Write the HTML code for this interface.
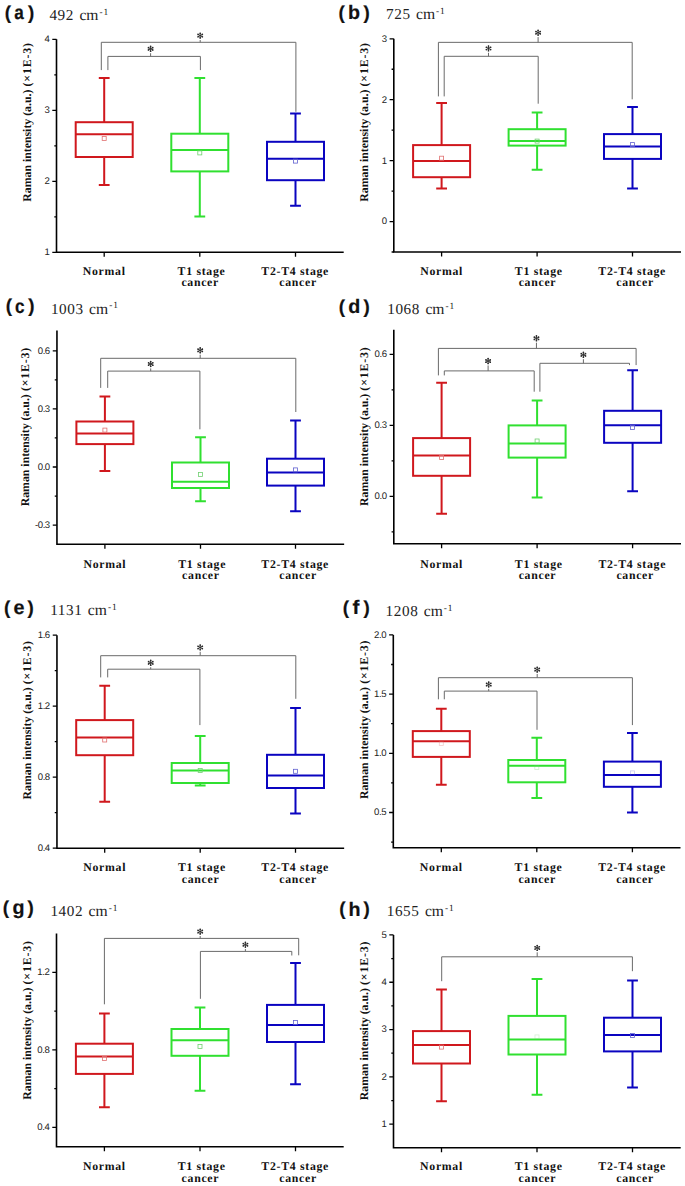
<!DOCTYPE html>
<html><head><meta charset="utf-8"><title>Raman box plots</title>
<style>
html,body{margin:0;padding:0;background:#fff;}
svg{display:block;text-rendering:geometricPrecision;}
.pl{font-family:"Liberation Sans",sans-serif;font-weight:bold;font-size:18.8px;letter-spacing:3.0px;fill:#111;stroke:#111;stroke-width:0.2px;}
.pll{font-size:19.7px;}
.wn{font-family:"Liberation Serif",serif;font-size:16px;fill:#222;}
.wnd{font-size:15.2px;letter-spacing:0.6px;}
.wcm{font-size:15.6px;}
.sup{font-size:9.4px;letter-spacing:0.9px;}
.tl{font-family:"Liberation Sans",sans-serif;font-size:9.6px;letter-spacing:-0.45px;fill:#222;text-anchor:end;}
.xl{font-family:"Liberation Serif",serif;font-weight:bold;font-size:11.8px;fill:#111;text-anchor:middle;letter-spacing:0.7px;}
.yt{font-family:"Liberation Serif",serif;font-weight:bold;font-size:11.8px;fill:#111;}
.yt2{letter-spacing:0.85px;}
.ax{stroke:#000;stroke-width:1.6;fill:none;}
.tk{stroke:#000;stroke-width:1.3;fill:none;}
.br{stroke:#6a6a6a;stroke-width:1;fill:none;}
.st{stroke:#2a2a2a;stroke-width:0.9;stroke-linecap:round;fill:none;}
.sd{fill:#2a2a2a;}
</style></head>
<body>
<svg width="685" height="1186" viewBox="0 0 685 1186">
<rect width="685" height="1186" fill="#fff"/>
<text class="pl" x="4.86" y="18.6">(</text>
<text class="pl" x="27.98" y="18.6">)</text>
<text class="pl pll" transform="translate(19.4 18.9) scale(0.87 1)" x="-5.83" y="0">a</text>
<text class="wn" x="49.4" y="19.7"><tspan class="wnd">492</tspan> <tspan dx="1.4" class="wcm">cm</tspan><tspan class="sup" dx="1.0" dy="-5.2">-1</tspan></text>
<path class="br" d="M101.3 70.1V42.3H295.9V111.8"/>
<path class="br" d="M200.2 42.3V40"/>
<path class="st" d="M200.2 37.95L200.2 33.25M198.08 36.73L202.32 34.47M198.08 34.47L202.32 36.73"/><g class="sd"><circle cx="200.2" cy="37.95" r="0.85"/><circle cx="200.2" cy="33.25" r="0.85"/><circle cx="198.08" cy="36.73" r="0.85"/><circle cx="202.32" cy="34.47" r="0.85"/><circle cx="198.08" cy="34.47" r="0.85"/><circle cx="202.32" cy="36.73" r="0.85"/></g>
<path class="br" d="M107.9 70.1V56.4H200.4V70.1"/>
<path class="br" d="M150.6 56.4V53.2"/>
<path class="st" d="M150.6 51.15L150.6 46.45M148.48 49.93L152.72 47.67M148.48 47.67L152.72 49.93"/><g class="sd"><circle cx="150.6" cy="51.15" r="0.85"/><circle cx="150.6" cy="46.45" r="0.85"/><circle cx="148.48" cy="49.93" r="0.85"/><circle cx="152.72" cy="47.67" r="0.85"/><circle cx="148.48" cy="47.67" r="0.85"/><circle cx="152.72" cy="49.93" r="0.85"/></g>
<path d="M98.8 77.9H109.6M104.2 77.9V122.2M104.2 157V184.9M98.8 184.9H109.6M75.7 134.2H132.7" stroke="#d0181d" stroke-width="2.0" fill="none"/>
<rect x="75.7" y="122.2" width="57" height="34.8" stroke="#d0181d" stroke-width="2.0" fill="none"/>
<rect x="102.2" y="136.5" width="4" height="4" stroke="#e07070" stroke-width="0.8" fill="none" opacity="1.0"/>
<path d="M194.4 77.9H205.2M199.8 77.9V133.7M199.8 171.4V216.5M194.4 216.5H205.2M171.3 150.1H228.3" stroke="#30e030" stroke-width="2.0" fill="none"/>
<rect x="171.3" y="133.7" width="57" height="37.7" stroke="#30e030" stroke-width="2.0" fill="none"/>
<rect x="197.8" y="150.9" width="4" height="4" stroke="#70d070" stroke-width="0.8" fill="none" opacity="1.0"/>
<path d="M290.1 113.5H300.9M295.5 113.5V141.8M295.5 180.2V205.8M290.1 205.8H300.9M267 158.8H324" stroke="#0a04c0" stroke-width="2.0" fill="none"/>
<rect x="267" y="141.8" width="57" height="38.4" stroke="#0a04c0" stroke-width="2.0" fill="none"/>
<rect x="293.5" y="159.1" width="4" height="4" stroke="#6060d0" stroke-width="0.8" fill="none" opacity="1.0"/>
<path class="ax" d="M56.5 39.3V252.3H343.7"/>
<text class="tl" x="49.3" y="255.2">1</text>
<text class="tl" x="49.3" y="184.2">2</text>
<text class="tl" x="49.3" y="113.2">3</text>
<text class="tl" x="49.3" y="42.2">4</text>
<path class="tk" d="M52.3 252.3H56.5M52.3 181.3H56.5M52.3 110.3H56.5M52.3 39.3H56.5M54.3 216.8H56.5M54.3 145.8H56.5M54.3 74.8H56.5M104.2 252.3V256.8M199.8 252.3V256.8M295.5 252.3V256.8"/>
<text class="xl" x="104.2" y="274.6">Normal</text>
<text class="xl" x="201.5" y="274.6">T1 stage</text>
<text class="xl" x="200.2" y="286">cancer</text>
<text class="xl" x="295.2" y="274.6">T2-T4 stage</text>
<text class="xl" x="298.1" y="286">cancer</text>
<text class="yt" transform="translate(30.6 201.7) rotate(-90)">Raman intensity (a.u.)<tspan dx="3.2" class="yt2">(×1E-3)</tspan></text>
<text class="pl" x="338.46" y="18.5">(</text>
<text class="pl" x="363.58" y="18.5">)</text>
<text class="pl pll" transform="translate(354.3 18.8) scale(1.0 1)" x="-6.26" y="0">b</text>
<text class="wn" x="386" y="19.4"><tspan class="wnd">725</tspan> <tspan dx="1.4" class="wcm">cm</tspan><tspan class="sup" dx="1.0" dy="-5.2">-1</tspan></text>
<path class="br" d="M438.4 96.4V42.35H632.2V99.3"/>
<path class="br" d="M538.1 42.35V37.1"/>
<path class="st" d="M538.1 35.05L538.1 30.35M535.98 33.83L540.22 31.57M535.98 31.57L540.22 33.83"/><g class="sd"><circle cx="538.1" cy="35.05" r="0.85"/><circle cx="538.1" cy="30.35" r="0.85"/><circle cx="535.98" cy="33.83" r="0.85"/><circle cx="540.22" cy="31.57" r="0.85"/><circle cx="535.98" cy="31.57" r="0.85"/><circle cx="540.22" cy="33.83" r="0.85"/></g>
<path class="br" d="M444.2 96.4V56.3H538.2V103.7"/>
<path class="br" d="M488.5 56.3V52.8"/>
<path class="st" d="M488.5 50.75L488.5 46.05M486.38 49.53L490.62 47.27M486.38 47.27L490.62 49.53"/><g class="sd"><circle cx="488.5" cy="50.75" r="0.85"/><circle cx="488.5" cy="46.05" r="0.85"/><circle cx="486.38" cy="49.53" r="0.85"/><circle cx="490.62" cy="47.27" r="0.85"/><circle cx="486.38" cy="47.27" r="0.85"/><circle cx="490.62" cy="49.53" r="0.85"/></g>
<path d="M436.2 103H447M441.6 103V145.1M441.6 177.2V188.6M436.2 188.6H447M413.1 160.9H470.1" stroke="#d0181d" stroke-width="2.0" fill="none"/>
<rect x="413.1" y="145.1" width="57" height="32.1" stroke="#d0181d" stroke-width="2.0" fill="none"/>
<rect x="439.6" y="156.2" width="4" height="4" stroke="#e07070" stroke-width="0.8" fill="none" opacity="1.0"/>
<path d="M531.7 112.6H542.5M537.1 112.6V129.2M537.1 145.6V169.8M531.7 169.8H542.5M508.6 141.1H565.6" stroke="#30e030" stroke-width="2.0" fill="none"/>
<rect x="508.6" y="129.2" width="57" height="16.4" stroke="#30e030" stroke-width="2.0" fill="none"/>
<rect x="535.1" y="139.1" width="4" height="4" stroke="#70d070" stroke-width="0.8" fill="none" opacity="1.0"/>
<path d="M627.1 107.1H637.9M632.5 107.1V134.1M632.5 158.9V188.5M627.1 188.5H637.9M604 146.5H661" stroke="#0a04c0" stroke-width="2.0" fill="none"/>
<rect x="604" y="134.1" width="57" height="24.8" stroke="#0a04c0" stroke-width="2.0" fill="none"/>
<rect x="630.5" y="142.6" width="4" height="4" stroke="#6060d0" stroke-width="0.8" fill="none" opacity="1.0"/>
<path class="ax" d="M393.8 38.8V252H681"/>
<text class="tl" x="386.6" y="224.44">0</text>
<text class="tl" x="386.6" y="163.53">1</text>
<text class="tl" x="386.6" y="102.61">2</text>
<text class="tl" x="386.6" y="41.7">3</text>
<path class="tk" d="M389.6 221.54H393.8M389.6 160.63H393.8M389.6 99.71H393.8M389.6 38.8H393.8M391.6 252H393.8M391.6 191.09H393.8M391.6 130.17H393.8M391.6 69.26H393.8M441.6 252V256.5M537.1 252V256.5M632.5 252V256.5"/>
<text class="xl" x="441.6" y="274.6">Normal</text>
<text class="xl" x="538.8" y="274.6">T1 stage</text>
<text class="xl" x="537.5" y="286">cancer</text>
<text class="xl" x="632.2" y="274.6">T2-T4 stage</text>
<text class="xl" x="635.1" y="286">cancer</text>
<text class="yt" transform="translate(367.8 201.7) rotate(-90)">Raman intensity (a.u.)<tspan dx="3.2" class="yt2">(×1E-3)</tspan></text>
<text class="pl" x="5.76" y="312.3">(</text>
<text class="pl" x="28.28" y="312.3">)</text>
<text class="pl pll" transform="translate(19.9 312.6) scale(0.87 1)" x="-5.57" y="0">c</text>
<text class="wn" x="50.9" y="313.5"><tspan class="wnd">1003</tspan> <tspan dx="1.4" class="wcm">cm</tspan><tspan class="sup" dx="1.0" dy="-5.2">-1</tspan></text>
<path class="br" d="M100.7 387.9V358.3H295.8V412"/>
<path class="br" d="M200.2 358.3V354.7"/>
<path class="st" d="M200.2 352.65L200.2 347.95M198.08 351.43L202.32 349.17M198.08 349.17L202.32 351.43"/><g class="sd"><circle cx="200.2" cy="352.65" r="0.85"/><circle cx="200.2" cy="347.95" r="0.85"/><circle cx="198.08" cy="351.43" r="0.85"/><circle cx="202.32" cy="349.17" r="0.85"/><circle cx="198.08" cy="349.17" r="0.85"/><circle cx="202.32" cy="351.43" r="0.85"/></g>
<path class="br" d="M107.7 387.9V371.1H199.9V429.3"/>
<path class="br" d="M150.7 371.1V368.4"/>
<path class="st" d="M150.7 366.35L150.7 361.65M148.58 365.13L152.82 362.87M148.58 362.87L152.82 365.13"/><g class="sd"><circle cx="150.7" cy="366.35" r="0.85"/><circle cx="150.7" cy="361.65" r="0.85"/><circle cx="148.58" cy="365.13" r="0.85"/><circle cx="152.82" cy="362.87" r="0.85"/><circle cx="148.58" cy="362.87" r="0.85"/><circle cx="152.82" cy="365.13" r="0.85"/></g>
<path d="M99.5 396.5H110.3M104.9 396.5V421.5M104.9 444.1V470.9M99.5 470.9H110.3M76.4 433.5H133.4" stroke="#d0181d" stroke-width="2.0" fill="none"/>
<rect x="76.4" y="421.5" width="57" height="22.6" stroke="#d0181d" stroke-width="2.0" fill="none"/>
<rect x="102.9" y="428.1" width="4" height="4" stroke="#e07070" stroke-width="0.8" fill="none" opacity="1.0"/>
<path d="M195.1 437.2H205.9M200.5 437.2V462.5M200.5 488V501.3M195.1 501.3H205.9M172 481.7H229" stroke="#30e030" stroke-width="2.0" fill="none"/>
<rect x="172" y="462.5" width="57" height="25.5" stroke="#30e030" stroke-width="2.0" fill="none"/>
<rect x="198.5" y="472.5" width="4" height="4" stroke="#70d070" stroke-width="0.8" fill="none" opacity="1.0"/>
<path d="M290.1 420.6H300.9M295.5 420.6V458.7M295.5 485.6V511.2M290.1 511.2H300.9M267 472.6H324" stroke="#0a04c0" stroke-width="2.0" fill="none"/>
<rect x="267" y="458.7" width="57" height="26.9" stroke="#0a04c0" stroke-width="2.0" fill="none"/>
<rect x="293.5" y="467.9" width="4" height="4" stroke="#6060d0" stroke-width="0.8" fill="none" opacity="1.0"/>
<path class="ax" d="M56.95 330.6V544.2H344.15"/>
<text class="tl" x="49.75" y="528">-0.3</text>
<text class="tl" x="49.75" y="469.9">0.0</text>
<text class="tl" x="49.75" y="411.8">0.3</text>
<text class="tl" x="49.75" y="353.7">0.6</text>
<path class="tk" d="M52.75 525.1H56.95M52.75 467H56.95M52.75 408.9H56.95M52.75 350.8H56.95M54.75 496.05H56.95M54.75 437.95H56.95M54.75 379.85H56.95M104.9 544.2V548.7M200.5 544.2V548.7M295.5 544.2V548.7"/>
<text class="xl" x="104.9" y="567.5">Normal</text>
<text class="xl" x="202.2" y="567.5">T1 stage</text>
<text class="xl" x="200.9" y="578.9">cancer</text>
<text class="xl" x="295.2" y="567.5">T2-T4 stage</text>
<text class="xl" x="298.1" y="578.9">cancer</text>
<text class="yt" transform="translate(28.9 506.3) rotate(-90)">Raman intensity (a.u.)<tspan dx="3.2" class="yt2">(×1E-3)</tspan></text>
<text class="pl" x="338.76" y="312.7">(</text>
<text class="pl" x="363.58" y="312.7">)</text>
<text class="pl pll" transform="translate(354 313) scale(1.0 1)" x="-5.77" y="0">d</text>
<text class="wn" x="387.2" y="314.1"><tspan class="wnd">1068</tspan> <tspan dx="1.4" class="wcm">cm</tspan><tspan class="sup" dx="1.0" dy="-5.2">-1</tspan></text>
<path class="br" d="M438.4 375.4V348.4H636.1V365.1"/>
<path class="br" d="M536.45 348.4V342.7"/>
<path class="st" d="M536.45 340.65L536.45 335.95M534.33 339.43L538.57 337.17M534.33 337.17L538.57 339.43"/><g class="sd"><circle cx="536.45" cy="340.65" r="0.85"/><circle cx="536.45" cy="335.95" r="0.85"/><circle cx="534.33" cy="339.43" r="0.85"/><circle cx="538.57" cy="337.17" r="0.85"/><circle cx="534.33" cy="337.17" r="0.85"/><circle cx="538.57" cy="339.43" r="0.85"/></g>
<path class="br" d="M444.3 375.4V370.9H534.2V391.7"/>
<path class="br" d="M488.1 370.9V365.45"/>
<path class="st" d="M488.1 363.4L488.1 358.7M485.98 362.18L490.22 359.92M485.98 359.92L490.22 362.18"/><g class="sd"><circle cx="488.1" cy="363.4" r="0.85"/><circle cx="488.1" cy="358.7" r="0.85"/><circle cx="485.98" cy="362.18" r="0.85"/><circle cx="490.22" cy="359.92" r="0.85"/><circle cx="485.98" cy="359.92" r="0.85"/><circle cx="490.22" cy="362.18" r="0.85"/></g>
<path class="br" d="M539.9 391.7V363.3H629.5V365.1"/>
<path class="br" d="M583.4 363.3V359.2"/>
<path class="st" d="M583.4 357.15L583.4 352.45M581.28 355.93L585.52 353.67M581.28 353.67L585.52 355.93"/><g class="sd"><circle cx="583.4" cy="357.15" r="0.85"/><circle cx="583.4" cy="352.45" r="0.85"/><circle cx="581.28" cy="355.93" r="0.85"/><circle cx="585.52" cy="353.67" r="0.85"/><circle cx="581.28" cy="353.67" r="0.85"/><circle cx="585.52" cy="355.93" r="0.85"/></g>
<path d="M436.2 382.8H447M441.6 382.8V438.1M441.6 475.8V513.8M436.2 513.8H447M413.1 455.5H470.1" stroke="#d0181d" stroke-width="2.0" fill="none"/>
<rect x="413.1" y="438.1" width="57" height="37.7" stroke="#d0181d" stroke-width="2.0" fill="none"/>
<rect x="439.6" y="455.4" width="4" height="4" stroke="#e07070" stroke-width="0.8" fill="none" opacity="1.0"/>
<path d="M531.7 400.4H542.5M537.1 400.4V425.4M537.1 457.6V497.4M531.7 497.4H542.5M508.6 443.6H565.6" stroke="#30e030" stroke-width="2.0" fill="none"/>
<rect x="508.6" y="425.4" width="57" height="32.2" stroke="#30e030" stroke-width="2.0" fill="none"/>
<rect x="535.1" y="439" width="4" height="4" stroke="#70d070" stroke-width="0.8" fill="none" opacity="1.0"/>
<path d="M627.2 370.2H638M632.6 370.2V410.8M632.6 442.8V491.3M627.2 491.3H638M604.1 425.3H661.1" stroke="#0a04c0" stroke-width="2.0" fill="none"/>
<rect x="604.1" y="410.8" width="57" height="32" stroke="#0a04c0" stroke-width="2.0" fill="none"/>
<rect x="630.6" y="425.4" width="4" height="4" stroke="#6060d0" stroke-width="0.8" fill="none" opacity="1.0"/>
<path class="ax" d="M393.8 329.8V543.8H681"/>
<text class="tl" x="386.6" y="499.3">0.0</text>
<text class="tl" x="386.6" y="428.3">0.3</text>
<text class="tl" x="386.6" y="357.3">0.6</text>
<path class="tk" d="M389.6 496.4H393.8M389.6 425.4H393.8M389.6 354.4H393.8M391.6 531.9H393.8M391.6 460.9H393.8M391.6 389.9H393.8M441.6 543.8V548.3M537.1 543.8V548.3M632.6 543.8V548.3"/>
<text class="xl" x="441.6" y="567.5">Normal</text>
<text class="xl" x="538.8" y="567.5">T1 stage</text>
<text class="xl" x="537.5" y="578.9">cancer</text>
<text class="xl" x="632.3" y="567.5">T2-T4 stage</text>
<text class="xl" x="635.2" y="578.9">cancer</text>
<text class="yt" transform="translate(367.8 505.9) rotate(-90)">Raman intensity (a.u.)<tspan dx="3.2" class="yt2">(×1E-3)</tspan></text>
<text class="pl" x="4.06" y="613.6">(</text>
<text class="pl" x="27.38" y="613.6">)</text>
<text class="pl pll" transform="translate(19 613.9) scale(1.0 1)" x="-5.53" y="0">e</text>
<text class="wn" x="50.2" y="615.3"><tspan class="wnd">1131</tspan> <tspan dx="1.4" class="wcm">cm</tspan><tspan class="sup" dx="1.0" dy="-5.2">-1</tspan></text>
<path class="br" d="M100.7 677.4V655.7H295.8V698.8"/>
<path class="br" d="M200.2 655.7V651.8"/>
<path class="st" d="M200.2 649.75L200.2 645.05M198.08 648.53L202.32 646.27M198.08 646.27L202.32 648.53"/><g class="sd"><circle cx="200.2" cy="649.75" r="0.85"/><circle cx="200.2" cy="645.05" r="0.85"/><circle cx="198.08" cy="648.53" r="0.85"/><circle cx="202.32" cy="646.27" r="0.85"/><circle cx="198.08" cy="646.27" r="0.85"/><circle cx="202.32" cy="648.53" r="0.85"/></g>
<path class="br" d="M107.7 677.4V669.2H199.9V725.1"/>
<path class="br" d="M150.7 669.2V667.2"/>
<path class="st" d="M150.7 665.15L150.7 660.45M148.58 663.93L152.82 661.67M148.58 661.67L152.82 663.93"/><g class="sd"><circle cx="150.7" cy="665.15" r="0.85"/><circle cx="150.7" cy="660.45" r="0.85"/><circle cx="148.58" cy="663.93" r="0.85"/><circle cx="152.82" cy="661.67" r="0.85"/><circle cx="148.58" cy="661.67" r="0.85"/><circle cx="152.82" cy="663.93" r="0.85"/></g>
<path d="M99.3 685.7H110.1M104.7 685.7V720.1M104.7 755.2V801.7M99.3 801.7H110.1M76.2 737.6H133.2" stroke="#d0181d" stroke-width="2.0" fill="none"/>
<rect x="76.2" y="720.1" width="57" height="35.1" stroke="#d0181d" stroke-width="2.0" fill="none"/>
<rect x="102.7" y="738" width="4" height="4" stroke="#e07070" stroke-width="0.8" fill="none" opacity="1.0"/>
<path d="M194.8 736H205.6M200.2 736V763M200.2 783V785.6M194.8 785.6H205.6M171.7 770.5H228.7" stroke="#30e030" stroke-width="2.0" fill="none"/>
<rect x="171.7" y="763" width="57" height="20" stroke="#30e030" stroke-width="2.0" fill="none"/>
<rect x="198.2" y="768.5" width="4" height="4" stroke="#70d070" stroke-width="0.8" fill="none" opacity="1.0"/>
<path d="M290.1 708H300.9M295.5 708V754.8M295.5 788V813.4M290.1 813.4H300.9M267 775.4H324" stroke="#0a04c0" stroke-width="2.0" fill="none"/>
<rect x="267" y="754.8" width="57" height="33.2" stroke="#0a04c0" stroke-width="2.0" fill="none"/>
<rect x="293.5" y="769.3" width="4" height="4" stroke="#6060d0" stroke-width="0.8" fill="none" opacity="1.0"/>
<path class="ax" d="M56.95 635.2V848.2H344.15"/>
<text class="tl" x="49.75" y="851.1">0.4</text>
<text class="tl" x="49.75" y="780.1">0.8</text>
<text class="tl" x="49.75" y="709.1">1.2</text>
<text class="tl" x="49.75" y="638.1">1.6</text>
<path class="tk" d="M52.75 848.2H56.95M52.75 777.2H56.95M52.75 706.2H56.95M52.75 635.2H56.95M54.75 812.7H56.95M54.75 741.7H56.95M54.75 670.7H56.95M104.7 848.2V852.7M200.2 848.2V852.7M295.5 848.2V852.7"/>
<text class="xl" x="104.7" y="871.4">Normal</text>
<text class="xl" x="201.9" y="871.4">T1 stage</text>
<text class="xl" x="200.6" y="882.8">cancer</text>
<text class="xl" x="295.2" y="871.4">T2-T4 stage</text>
<text class="xl" x="298.1" y="882.8">cancer</text>
<text class="yt" transform="translate(30.6 799.5) rotate(-90)">Raman intensity (a.u.)<tspan dx="3.2" class="yt2">(×1E-3)</tspan></text>
<text class="pl" x="342.86" y="613.6">(</text>
<text class="pl" x="363.58" y="613.6">)</text>
<text class="pl pll" transform="translate(356.2 613.9) scale(1.05 1)" x="-3.47" y="0">f</text>
<text class="wn" x="385.6" y="615.7"><tspan class="wnd">1208</tspan> <tspan dx="1.4" class="wcm">cm</tspan><tspan class="sup" dx="1.0" dy="-5.2">-1</tspan></text>
<path class="br" d="M438.4 699.3V677.7H632.4V725.1"/>
<path class="br" d="M537.2 677.7V674"/>
<path class="st" d="M537.2 671.95L537.2 667.25M535.08 670.73L539.32 668.47M535.08 668.47L539.32 670.73"/><g class="sd"><circle cx="537.2" cy="671.95" r="0.85"/><circle cx="537.2" cy="667.25" r="0.85"/><circle cx="535.08" cy="670.73" r="0.85"/><circle cx="539.32" cy="668.47" r="0.85"/><circle cx="535.08" cy="668.47" r="0.85"/><circle cx="539.32" cy="670.73" r="0.85"/></g>
<path class="br" d="M444.3 699.3V691.1H537V729.8"/>
<path class="br" d="M488.7 691.1V688.9"/>
<path class="st" d="M488.7 686.85L488.7 682.15M486.58 685.63L490.82 683.37M486.58 683.37L490.82 685.63"/><g class="sd"><circle cx="488.7" cy="686.85" r="0.85"/><circle cx="488.7" cy="682.15" r="0.85"/><circle cx="486.58" cy="685.63" r="0.85"/><circle cx="490.82" cy="683.37" r="0.85"/><circle cx="486.58" cy="683.37" r="0.85"/><circle cx="490.82" cy="685.63" r="0.85"/></g>
<path d="M435.9 708.7H446.7M441.3 708.7V731.1M441.3 756.9V784.7M435.9 784.7H446.7M412.8 741.2H469.8" stroke="#d0181d" stroke-width="2.0" fill="none"/>
<rect x="412.8" y="731.1" width="57" height="25.8" stroke="#d0181d" stroke-width="2.0" fill="none"/>
<rect x="439.3" y="741.4" width="4" height="4" stroke="#e07070" stroke-width="0.8" fill="none" opacity="0.35"/>
<path d="M531.4 737.7H542.2M536.8 737.7V760M536.8 782.3V797.9M531.4 797.9H542.2M508.3 765.7H565.3" stroke="#30e030" stroke-width="2.0" fill="none"/>
<rect x="508.3" y="760" width="57" height="22.3" stroke="#30e030" stroke-width="2.0" fill="none"/>
<rect x="534.8" y="765.5" width="4" height="4" stroke="#70d070" stroke-width="0.8" fill="none" opacity="0.35"/>
<path d="M627 732.9H637.8M632.4 732.9V761.6M632.4 786.8V812.4M627 812.4H637.8M603.9 775H660.9" stroke="#0a04c0" stroke-width="2.0" fill="none"/>
<rect x="603.9" y="761.6" width="57" height="25.2" stroke="#0a04c0" stroke-width="2.0" fill="none"/>
<rect x="630.4" y="770.9" width="4" height="4" stroke="#6060d0" stroke-width="0.8" fill="none" opacity="0.35"/>
<path class="ax" d="M393.3 634.9V847.8H680.5"/>
<text class="tl" x="386.1" y="815.4">0.5</text>
<text class="tl" x="386.1" y="756.2">1.0</text>
<text class="tl" x="386.1" y="697">1.5</text>
<text class="tl" x="386.1" y="637.8">2.0</text>
<path class="tk" d="M389.1 812.5H393.3M389.1 753.3H393.3M389.1 694.1H393.3M389.1 634.9H393.3M391.1 842.1H393.3M391.1 782.9H393.3M391.1 723.7H393.3M391.1 664.5H393.3M441.3 847.8V852.3M536.8 847.8V852.3M632.4 847.8V852.3"/>
<text class="xl" x="441.3" y="871.4">Normal</text>
<text class="xl" x="538.5" y="871.4">T1 stage</text>
<text class="xl" x="537.2" y="882.8">cancer</text>
<text class="xl" x="632.1" y="871.4">T2-T4 stage</text>
<text class="xl" x="635" y="882.8">cancer</text>
<text class="yt" transform="translate(367.8 799.1) rotate(-90)">Raman intensity (a.u.)<tspan dx="3.2" class="yt2">(×1E-3)</tspan></text>
<text class="pl" x="2.86" y="913.6">(</text>
<text class="pl" x="27.38" y="913.6">)</text>
<text class="pl pll" transform="translate(18.3 913.9) scale(1.0 1)" x="-5.76" y="0">g</text>
<text class="wn" x="50.4" y="916.3"><tspan class="wnd">1402</tspan> <tspan dx="1.4" class="wcm">cm</tspan><tspan class="sup" dx="1.0" dy="-5.2">-1</tspan></text>
<path class="br" d="M104.4 1004.3V938.4H298.7V955.3"/>
<path class="br" d="M200.2 938.4V936"/>
<path class="st" d="M200.2 933.95L200.2 929.25M198.08 932.73L202.32 930.47M198.08 930.47L202.32 932.73"/><g class="sd"><circle cx="200.2" cy="933.95" r="0.85"/><circle cx="200.2" cy="929.25" r="0.85"/><circle cx="198.08" cy="932.73" r="0.85"/><circle cx="202.32" cy="930.47" r="0.85"/><circle cx="198.08" cy="930.47" r="0.85"/><circle cx="202.32" cy="932.73" r="0.85"/></g>
<path class="br" d="M200.4 998.8V951.4H291.8V955.5"/>
<path class="br" d="M245.4 951.4V949.1"/>
<path class="st" d="M245.4 947.05L245.4 942.35M243.28 945.83L247.52 943.57M243.28 943.57L247.52 945.83"/><g class="sd"><circle cx="245.4" cy="947.05" r="0.85"/><circle cx="245.4" cy="942.35" r="0.85"/><circle cx="243.28" cy="945.83" r="0.85"/><circle cx="247.52" cy="943.57" r="0.85"/><circle cx="243.28" cy="943.57" r="0.85"/><circle cx="247.52" cy="945.83" r="0.85"/></g>
<path d="M99 1013.5H109.8M104.4 1013.5V1043.7M104.4 1073.9V1107.2M99 1107.2H109.8M75.9 1056.6H132.9" stroke="#d0181d" stroke-width="2.0" fill="none"/>
<rect x="75.9" y="1043.7" width="57" height="30.2" stroke="#d0181d" stroke-width="2.0" fill="none"/>
<rect x="102.4" y="1056.6" width="4" height="4" stroke="#e07070" stroke-width="0.8" fill="none" opacity="1.0"/>
<path d="M194.6 1007.5H205.4M200 1007.5V1029M200 1055.8V1090.8M194.6 1090.8H205.4M171.5 1040.3H228.5" stroke="#30e030" stroke-width="2.0" fill="none"/>
<rect x="171.5" y="1029" width="57" height="26.8" stroke="#30e030" stroke-width="2.0" fill="none"/>
<rect x="198" y="1044.6" width="4" height="4" stroke="#70d070" stroke-width="0.8" fill="none" opacity="1.0"/>
<path d="M290.1 962.9H300.9M295.5 962.9V1004.9M295.5 1042V1084.3M290.1 1084.3H300.9M267 1024.9H324" stroke="#0a04c0" stroke-width="2.0" fill="none"/>
<rect x="267" y="1004.9" width="57" height="37.1" stroke="#0a04c0" stroke-width="2.0" fill="none"/>
<rect x="293.5" y="1020.5" width="4" height="4" stroke="#6060d0" stroke-width="0.8" fill="none" opacity="1.0"/>
<path class="ax" d="M56.5 933.4V1146.8H343.7"/>
<text class="tl" x="49.3" y="1130.3">0.4</text>
<text class="tl" x="49.3" y="1052.8">0.8</text>
<text class="tl" x="49.3" y="975.3">1.2</text>
<path class="tk" d="M52.3 1127.4H56.5M52.3 1049.9H56.5M52.3 972.4H56.5M54.3 1088.65H56.5M54.3 1011.15H56.5M104.4 1146.8V1151.3M200 1146.8V1151.3M295.5 1146.8V1151.3"/>
<text class="xl" x="104.4" y="1170.2">Normal</text>
<text class="xl" x="201.7" y="1170.2">T1 stage</text>
<text class="xl" x="200.4" y="1181.6">cancer</text>
<text class="xl" x="295.2" y="1170.2">T2-T4 stage</text>
<text class="xl" x="298.1" y="1181.6">cancer</text>
<text class="yt" transform="translate(30.7 1099.7) rotate(-90)">Raman intensity (a.u.)<tspan dx="3.2" class="yt2">(×1E-3)</tspan></text>
<text class="pl" x="339.36" y="915.2">(</text>
<text class="pl" x="363.58" y="915.2">)</text>
<text class="pl pll" transform="translate(354.6 915.5) scale(1.0 1)" x="-6.09" y="0">h</text>
<text class="wn" x="386.7" y="916.1"><tspan class="wnd">1655</tspan> <tspan dx="1.4" class="wcm">cm</tspan><tspan class="sup" dx="1.0" dy="-5.2">-1</tspan></text>
<path class="br" d="M441.7 981.2V956.8H632.4V971.2"/>
<path class="br" d="M537.2 956.8V952.3"/>
<path class="st" d="M537.2 950.25L537.2 945.55M535.08 949.03L539.32 946.77M535.08 946.77L539.32 949.03"/><g class="sd"><circle cx="537.2" cy="950.25" r="0.85"/><circle cx="537.2" cy="945.55" r="0.85"/><circle cx="535.08" cy="949.03" r="0.85"/><circle cx="539.32" cy="946.77" r="0.85"/><circle cx="535.08" cy="946.77" r="0.85"/><circle cx="539.32" cy="949.03" r="0.85"/></g>
<path d="M436.1 989.5H446.9M441.5 989.5V1031.1M441.5 1063.5V1101.2M436.1 1101.2H446.9M413 1044.9H470" stroke="#d0181d" stroke-width="2.0" fill="none"/>
<rect x="413" y="1031.1" width="57" height="32.4" stroke="#d0181d" stroke-width="2.0" fill="none"/>
<rect x="439.5" y="1045.1" width="4" height="4" stroke="#e07070" stroke-width="0.8" fill="none" opacity="1.0"/>
<path d="M531.6 979.1H542.4M537 979.1V1015.9M537 1054.5V1094.7M531.6 1094.7H542.4M508.5 1039.5H565.5" stroke="#30e030" stroke-width="2.0" fill="none"/>
<rect x="508.5" y="1015.9" width="57" height="38.6" stroke="#30e030" stroke-width="2.0" fill="none"/>
<rect x="535" y="1034.9" width="4" height="4" stroke="#70d070" stroke-width="0.8" fill="none" opacity="0.3"/>
<path d="M627.1 980.4H637.9M632.5 980.4V1017.7M632.5 1051.4V1087.4M627.1 1087.4H637.9M604 1035.1H661" stroke="#0a04c0" stroke-width="2.0" fill="none"/>
<rect x="604" y="1017.7" width="57" height="33.7" stroke="#0a04c0" stroke-width="2.0" fill="none"/>
<rect x="630.5" y="1033.6" width="4" height="4" stroke="#6060d0" stroke-width="0.8" fill="none" opacity="1.0"/>
<path class="ax" d="M393.5 934.9V1147.8H680.7"/>
<text class="tl" x="386.3" y="1127.1">1</text>
<text class="tl" x="386.3" y="1079.78">2</text>
<text class="tl" x="386.3" y="1032.45">3</text>
<text class="tl" x="386.3" y="985.12">4</text>
<text class="tl" x="386.3" y="937.8">5</text>
<path class="tk" d="M389.3 1124.2H393.5M389.3 1076.88H393.5M389.3 1029.55H393.5M389.3 982.23H393.5M389.3 934.9H393.5M391.3 1100.54H393.5M391.3 1053.21H393.5M391.3 1005.89H393.5M391.3 958.56H393.5M441.5 1147.8V1152.3M537 1147.8V1152.3M632.5 1147.8V1152.3"/>
<text class="xl" x="441.5" y="1170.2">Normal</text>
<text class="xl" x="538.7" y="1170.2">T1 stage</text>
<text class="xl" x="537.4" y="1181.6">cancer</text>
<text class="xl" x="632.2" y="1170.2">T2-T4 stage</text>
<text class="xl" x="635.1" y="1181.6">cancer</text>
<text class="yt" transform="translate(367.5 1100.2) rotate(-90)">Raman intensity (a.u.)<tspan dx="3.2" class="yt2">(×1E-3)</tspan></text>
</svg>
</body></html>
